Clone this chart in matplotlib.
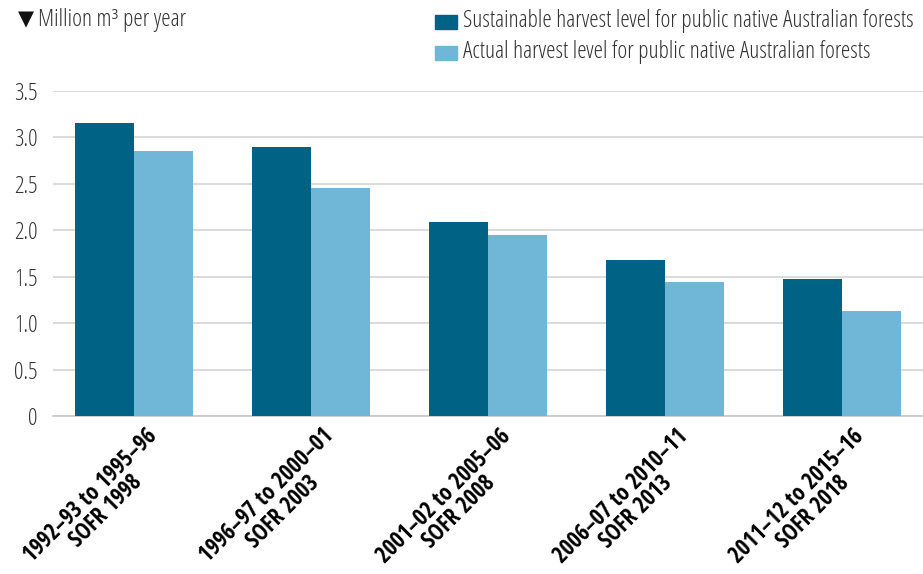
import numpy as np
import matplotlib
matplotlib.use('Agg')
import matplotlib.pyplot as plt
from matplotlib.patches import Patch
from matplotlib import font_manager as fm

# data
periods = ['1992\u201393 to 1995\u201396\nSOFR 1998',
           '1996\u201397 to 2000\u201301\nSOFR 2003',
           '2001\u201302 to 2005\u201306\nSOFR 2008',
           '2006\u201307 to 2010\u201311\nSOFR 2013',
           '2011\u201312 to 2015\u201316\nSOFR 2018']
series_names = ['Sustainable harvest level for public native Australian forests',
                'Actual harvest level for public native Australian forests']
sustainable = [3.16, 2.90, 2.09, 1.68, 1.48]
actual = [2.85, 2.45, 1.95, 1.44, 1.13]
yticks = [0, 0.5, 1.0, 1.5, 2.0, 2.5, 3.0, 3.5]
ytick_labels = ['0', '0.5', '1.0', '1.5', '2.0', '2.5', '3.0', '3.5']


def wnum(f):
    try:
        return int(f.weight)
    except (TypeError, ValueError):
        return {'light': 300, 'normal': 400, 'regular': 400, 'bold': 700}.get(str(f.weight), 400)


def pick_font(weight):
    # prefer a condensed Open Sans like the reference, fall back to DejaVu condensed
    fonts = [f for f in fm.fontManager.ttflist
             if 'Italic' not in f.fname and 'Oblique' not in f.fname]
    groups = [
        [f for f in fonts if f.name.startswith('Open Sans')
         and ('Condensed' in f.name or 'Condensed' in f.fname or str(f.stretch) == 'condensed')
         and 'Semi' not in f.fname and 'Extra' not in f.fname.replace('ExtraBold', '')],
        [f for f in fonts if f.name == 'DejaVu Sans' and str(f.stretch) == 'condensed'],
    ]
    for cands in groups:
        if cands:
            best = min(cands, key=lambda f: abs(wnum(f) - weight))
            return fm.FontProperties(fname=best.fname)
    return fm.FontProperties(family='DejaVu Sans', weight=weight)


reg = pick_font(300)
bold = pick_font(700)

dark = '#006385'
light = '#70b6d6'
txtc = '#333333'

fig = plt.figure(figsize=(9.23, 5.74), dpi=100)
ax = fig.add_axes([0.0574, 0.2753, 0.9426, 0.5662])

x = np.arange(len(periods))
w = 0.333
ax.bar(x - w/2, sustainable, w, color=dark, zorder=3)
ax.bar(x + w/2, actual, w, color=light, zorder=3)

ax.set_xlim(-0.46, 4.46)
ax.set_ylim(0, 3.5)
ax.set_yticks(yticks)
ax.set_yticklabels(ytick_labels, fontproperties=reg, fontsize=17, color=txtc)
ax.yaxis.grid(True, color='#d4d4d4', linewidth=1.2, zorder=0)
for s in ['top', 'right', 'left']:
    ax.spines[s].set_visible(False)
ax.spines['bottom'].set_color('#c8c8c8')
ax.spines['bottom'].set_linewidth(1.2)
ax.tick_params(axis='y', length=0, pad=11)
ax.tick_params(axis='x', length=0, pad=6)

ax.set_xticks(x + 0.06)
ax.set_xticklabels(periods, rotation=45, ha='right', rotation_mode='anchor',
                   fontproperties=bold, fontsize=16.5, multialignment='center',
                   linespacing=0.92)

# the condensed font has no triangle glyph, draw it with DejaVu Sans
fig.text(0.019, 0.966, '\u25bc', family='DejaVu Sans', fontsize=15,
         color='#111111', va='center', ha='left')
unit = fig.text(0.041, 0.965, 'Million m\u00b3 per year', fontproperties=reg,
                fontsize=17, color=txtc, va='center', ha='left')

handles = [Patch(color=dark), Patch(color=light)]
leg = fig.legend(handles, series_names, loc='upper left',
                 bbox_to_anchor=(0.462, 1.0), frameon=False, prop=reg,
                 handlelength=1.55, handleheight=1.15,
                 handletextpad=0.4, labelspacing=0.5, borderaxespad=0.25,
                 labelcolor=txtc)
for t in leg.get_texts():
    t.set_fontsize(17)

# fit the legend text to the width it takes in the reference
fig.canvas.draw()
r = fig.canvas.get_renderer()
wid = leg.get_texts()[0].get_window_extent(r).width
s = 17 * 452 / wid
for t in leg.get_texts():
    t.set_fontsize(s)
unit.set_fontsize(s)
for t in ax.get_yticklabels():
    t.set_fontsize(s)

fig.savefig('out.png', dpi=100)
